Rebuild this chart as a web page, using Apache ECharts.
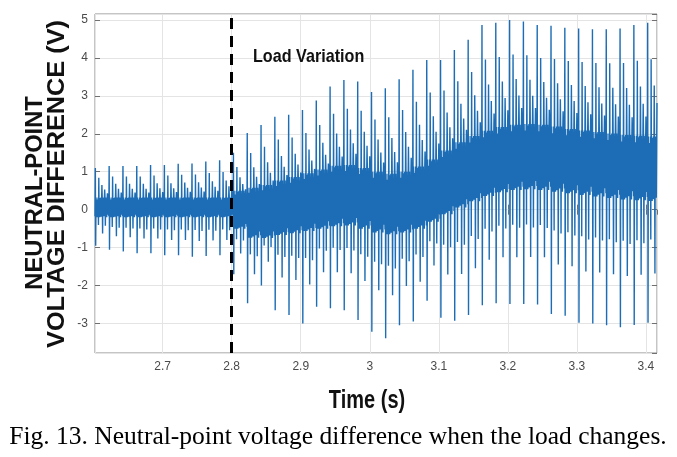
<!DOCTYPE html>
<html>
<head>
<meta charset="utf-8">
<script src="https://cdn.jsdelivr.net/npm/echarts@6/dist/echarts.min.js"></script>
<style>
html,body{margin:0;padding:0;background:#fff;}
#chart{width:677px;height:457px;}
</style>
</head>
<body>
<div id="chart"></div>
<script>
// ---- Data (one entry per 20 ms cycle, cycle k = -1 .. 40) ----
const cycleStart = 2.5825;   // time of the tall spike of the first cycle (s)
const period = 0.02;         // spike period (s)
const sampleStep = 0.0005;   // sample spacing inside a cycle (s)

// tall positive spike peak of each cycle (V)
const tallPos = [1.10, 1.10, 1.15, 1.15, 1.15, 1.18, 1.18, 1.21, 1.22, 1.27, 1.30,
  1.50, 2.02, 2.23, 2.45, 2.50, 2.63, 2.88, 3.25, 3.42, 3.38, 3.10,
  3.20, 3.44, 3.69, 3.95, 3.95, 4.21, 4.48, 4.87, 4.93, 5.00, 4.96,
  4.87, 4.85, 4.80, 4.78, 4.76, 4.76, 4.78, 4.87, 4.93];
// tall negative spike peak of each cycle (V)
const tallNeg = [-0.95, -0.95, -1.06, -1.10, -1.15, -1.15, -1.20, -1.20, -1.24, -1.22, -1.20,
  -1.70, -2.47, -2.00, -2.65, -2.78, -3.00, -2.56, -2.60, -2.65, -2.91, -3.22,
  -3.39, -3.05, -2.95, -2.40, -2.85, -2.93, -2.78, -2.52, -2.47, -2.49, -2.49,
  -2.50, -2.75, -2.80, -2.98, -3.00, -3.05, -3.10, -3.04, -2.98];
// centre of the dense band (V)
const bandCenter = [0.06, 0.06, 0.06, 0.06, 0.06, 0.06, 0.06, 0.06, 0.06, 0.06, 0.06,
  0.00, -0.08, -0.05, 0.05, 0.12, 0.20, 0.28, 0.36, 0.38, 0.30, 0.20,
  0.15, 0.20, 0.32, 0.50, 0.72, 0.92, 1.08, 1.22, 1.32, 1.38, 1.40,
  1.38, 1.33, 1.28, 1.24, 1.20, 1.16, 1.12, 1.10, 1.08];
// half width of the dense band (V)
const bandHalf = [0.26, 0.26, 0.26, 0.26, 0.26, 0.26, 0.26, 0.26, 0.26, 0.26, 0.26,
  0.50, 0.66, 0.70, 0.72, 0.74, 0.76, 0.78, 0.80, 0.80, 0.80, 0.80,
  0.80, 0.80, 0.82, 0.82, 0.84, 0.86, 0.86, 0.86, 0.86, 0.86, 0.86,
  0.86, 0.86, 0.85, 0.85, 0.85, 0.85, 0.85, 0.85, 0.85];
// shape of one cycle: sample index -> fraction of the tall spike
const posSpikeShape = {0: 1.0, 10: 0.75, 19: 0.57, 27: 0.45, 35: 0.36};
const negSpikeShape = {1: 1.0, 9: 0.46, 21: 0.68, 29: 0.48};
const bandRipple = [0.95, -0.55, 1.0, -0.95, 0.4, -1.0, 0.8, -0.35, 1.0, -0.75, 0.5, -0.9, 0.7, -1.0];
const samplesPerCycle = 40;

const xMin = 2.602, xMax = 3.416;
const yMin = -3.78, yMax = 5.16;
const loadChangeTime = 2.8;

// ---- build the line from the arrays ----
const lineData = [];
for (let k = 0; k < tallPos.length; k++) {
  const t0 = cycleStart + k * period;
  const P = tallPos[k], N = tallNeg[k], C = bandCenter[k], W = bandHalf[k];
  for (let s = 0; s < samplesPerCycle; s++) {
    const t = t0 + s * sampleStep;
    if (t < xMin || t > xMax) continue;
    let v;
    if (posSpikeShape[s] !== undefined) v = C + posSpikeShape[s] * (P - C);
    else if (negSpikeShape[s] !== undefined) v = C + negSpikeShape[s] * (N - C);
    else v = C + bandRipple[s % bandRipple.length] * W;
    lineData.push([+t.toFixed(5), +v.toFixed(3)]);
  }
}

const chart = echarts.init(document.getElementById('chart'), null, {renderer: 'canvas'});
const tickLabelStyle = {color: '#4a4a4a', fontSize: 12, fontFamily: '"Liberation Sans", Arial, sans-serif'};
const gridLine = {show: true, lineStyle: {color: '#e4e4e4', width: 1}};
const tickStyle = {show: true, inside: true, length: 5, lineStyle: {color: '#707070'}};

chart.setOption({
  animation: false,
  backgroundColor: '#ffffff',
  grid: {left: 95, right: 20, top: 14, bottom: 104, show: true, borderColor: '#8a8a8a', borderWidth: 1, containLabel: false},
  xAxis: [{
    type: 'value', min: xMin, max: xMax, splitNumber: 8,
    axisLine: {show: false},
    axisTick: tickStyle,
    splitLine: gridLine,
    axisLabel: Object.assign({margin: 8, showMinLabel: false, showMaxLabel: false,
      formatter: function (v) {
        const r = Math.round(v * 10) / 10;
        if (Math.abs(v - r) > 1e-6) return '';
        return String(r);
      }}, tickLabelStyle)
  }, {
    type: 'value', position: 'top', min: xMin, max: xMax, splitNumber: 8,
    axisLine: {show: false}, axisTick: tickStyle, splitLine: {show: false}, axisLabel: {show: false}
  }],
  yAxis: [{
    type: 'value', min: yMin, max: yMax, splitNumber: 8,
    axisLine: {show: false},
    axisTick: tickStyle,
    splitLine: gridLine,
    axisLabel: Object.assign({margin: 7, showMinLabel: false, showMaxLabel: false,
      formatter: function (v) {
        const r = Math.round(v);
        if (Math.abs(v - r) > 1e-6) return '';
        return String(r);
      }}, tickLabelStyle)
  }, {
    type: 'value', position: 'right', min: yMin, max: yMax, splitNumber: 8,
    axisLine: {show: false}, axisTick: tickStyle, splitLine: {show: false}, axisLabel: {show: false}
  }],
  series: [{
    type: 'line',
    xAxisIndex: 0, yAxisIndex: 0,
    data: lineData,
    showSymbol: false,
    symbol: 'none',
    clip: true,
    sampling: null,
    lineStyle: {color: '#1c6db5', width: 1.4},
    emphasis: {disabled: true},
    markLine: {
      silent: true,
      symbol: ['none', 'none'],
      label: {show: false},
      lineStyle: {color: '#000000', width: 3, type: [11, 7]},
      data: [{xAxis: loadChangeTime}]
    },
    z: 2
  }],
  graphic: [
    {type: 'text', z: 100, x: 36, y: 193, rotation: Math.PI / 2, scaleX: 1.03,
      style: {text: 'NEUTRAL-POINT', fontSize: 23, fontWeight: 'bold', fontFamily: '"Liberation Sans", Arial, sans-serif',
        fill: '#111111', align: 'center', verticalAlign: 'middle'}},
    {type: 'text', z: 100, x: 58, y: 184, rotation: Math.PI / 2, scaleX: 1.10,
      style: {text: 'VOLTAGE DIFFERENCE (V)', fontSize: 23, fontWeight: 'bold', fontFamily: '"Liberation Sans", Arial, sans-serif',
        fill: '#111111', align: 'center', verticalAlign: 'middle'}},
    {type: 'text', z: 100, x: 253, y: 57, scaleX: 0.85,
      style: {text: 'Load Variation', fontSize: 19, fontWeight: 'bold', fontFamily: '"Liberation Sans", Arial, sans-serif',
        fill: '#111111', align: 'left', verticalAlign: 'middle'}},
    {type: 'text', z: 100, x: 367, y: 401, scaleX: 0.8,
      style: {text: 'Time (s)', fontSize: 25, fontWeight: 'bold', fontFamily: '"Liberation Sans", Arial, sans-serif',
        fill: '#111111', align: 'center', verticalAlign: 'middle'}},
    {type: 'text', z: 100, x: 338, y: 437,
      style: {text: 'Fig. 13. Neutral-point voltage difference when the load changes.', fontSize: 25.5,
        fontFamily: '"Liberation Serif", "Times New Roman", serif', fill: '#000000', align: 'center', verticalAlign: 'middle'}}
  ]
});
</script>
</body>
</html>
